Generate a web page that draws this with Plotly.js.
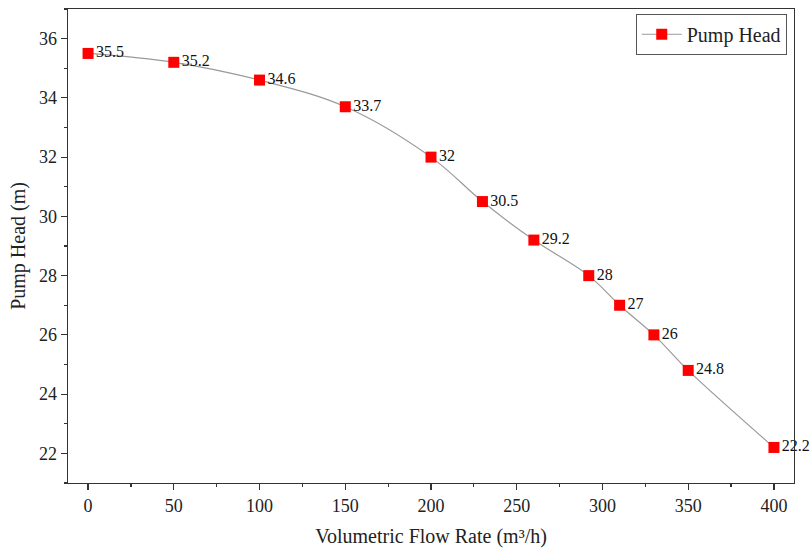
<!DOCTYPE html>
<html>
<head>
<meta charset="utf-8">
<script src="https://cdn.plot.ly/plotly-3.0.1.min.js"></script>
<style>html,body{margin:0;padding:0;background:#fff;}#chart{width:810px;height:551px;}</style>
</head>
<body>
<div id="chart"></div>
<script>
const flowRate = [0, 50, 100, 150, 200, 230, 260, 292, 310, 330, 350, 400];
const pumpHead = [35.5, 35.2, 34.6, 33.7, 32, 30.5, 29.2, 28, 27, 26, 24.8, 22.2];
const headLabels = ["35.5", "35.2", "34.6", "33.7", "32", "30.5", "29.2", "28", "27", "26", "24.8", "22.2"];
const seriesName = "Pump Head";

const font = "'Liberation Serif', 'Times New Roman', serif";

const trace = {
  x: flowRate,
  y: pumpHead,
  text: headLabels,
  name: seriesName,
  type: "scatter",
  mode: "lines+markers+text",
  line: {shape: "spline", smoothing: 1, color: "#9a9a9a", width: 1.2},
  marker: {symbol: "square", size: 11, color: "#ff0000", line: {width: 0}},
  textposition: "middle right",
  textfont: {family: font, size: 16, color: "#111"},
  cliponaxis: false
};

const axisCommon = {
  showline: true, linecolor: "#333", linewidth: 1.3, mirror: true,
  ticks: "outside", ticklen: 6, tickwidth: 1.2, tickcolor: "#333",
  showgrid: false, zeroline: false,
  tickfont: {family: font, size: 18, color: "#222"}
};

const layout = {
  width: 810, height: 551,
  margin: {l: 68, r: 16, t: 9, b: 68},
  paper_bgcolor: "#fff", plot_bgcolor: "#fff",
  showlegend: true,
  xaxis: Object.assign({}, axisCommon, {
    range: [-11.7, 411.7], tickvals: [0,50,100,150,200,250,300,350,400],
    minor: {ticks: "outside", ticklen: 3, tickvals: [25,75,125,175,225,275,325,375], tickcolor: "#333"},
    title: {text: "Volumetric Flow Rate (m³/h)", font: {family: font, size: 20, color: "#222"}, standoff: 14}
  }),
  yaxis: Object.assign({}, axisCommon, {
    range: [21, 37], tickvals: [22,24,26,28,30,32,34,36],
    minor: {ticks: "outside", ticklen: 3, tickvals: [21,23,25,27,29,31,33,35,37], tickcolor: "#333"},
    title: {text: "Pump Head (m)", font: {family: font, size: 20, color: "#222"}, standoff: 8}
  }),
  legend: {
    x: 0.99, y: 0.99, xanchor: "right", yanchor: "top",
    bordercolor: "#555", borderwidth: 1, bgcolor: "#fff",
    font: {family: font, size: 20, color: "#222"},
    itemwidth: 40
  }
};

Plotly.newPlot("chart", [trace], layout, {displayModeBar: false, staticPlot: true});
</script>
</body>
</html>
